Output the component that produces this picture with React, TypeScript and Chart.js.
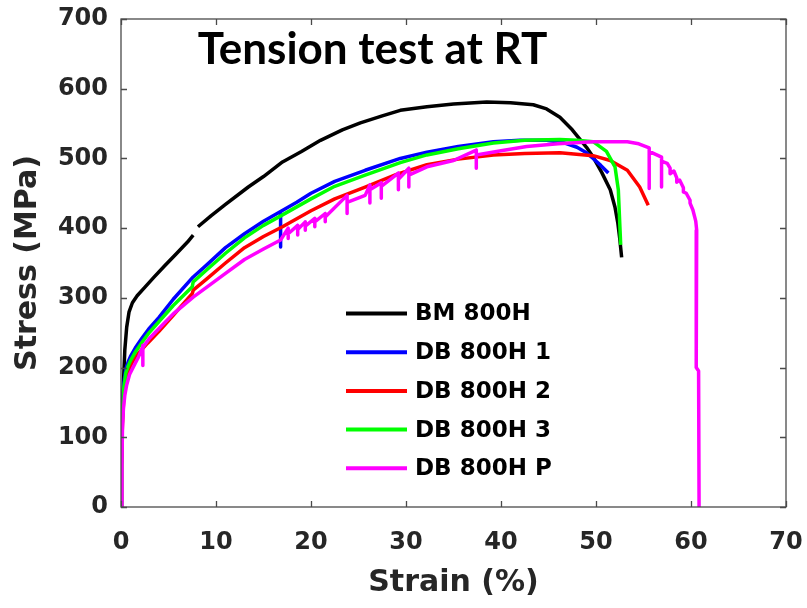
import React, { useEffect, useRef } from 'react';
import { Chart, registerables } from 'chart.js';

Chart.register(...registerables);

// ---------- Data ----------
const seriesLabels = ['BM 800H', 'DB 800H 1', 'DB 800H 2', 'DB 800H 3', 'DB 800H P'];
const seriesColors = ['#000000', '#0000ff', '#ff0000', '#00ff00', '#ff00ff'];

const xTickValues = [0, 10, 20, 30, 40, 50, 60, 70];
const yTickValues = [0, 100, 200, 300, 400, 500, 600, 700];

const bmStrain = [0, 0.05, 0.15, 0.25, 0.4, 0.6, 0.85, 1.2, 1.7, 2.5, 3.5, 4.6, 5.8, 7.0, 7.6, 7.85, 8.1, 9.5, 11, 13.4, 15, 17, 19, 21, 23.3, 25.2, 27.5, 29.4, 32.2, 35, 38.5, 41, 43.4, 44.8, 46.2, 47.5, 49, 49.7, 50.6, 51.5, 52, 52.3, 52.5, 52.7];
const bmStress = [0, 60, 130, 175, 225, 258, 280, 293, 303, 315, 330, 346, 363, 380, 390, null, 402, 418, 434, 459, 474, 495, 510, 526, 541, 551, 561, 569, 574, 578, 581, 580, 577, 571, 559, 541, 516, 502, 480, 455, 430, 407, 385, 358];

const db1Strain = [0, 0.05, 0.15, 0.3, 0.5, 0.75, 1.0, 1.5, 2.2, 2.9, 4, 5.5, 7.6, 9, 11, 13, 15, 16.8, 16.8, 16.8, 18.5, 20, 22.5, 25.7, 29.4, 32.2, 35.5, 39.2, 42, 44.8, 46.5, 48, 49, 49.7, 50.5, 51.3];
const db1Stress = [0, 70, 140, 178, 198, 208, 216, 228, 242, 255, 272, 298, 330, 347, 372, 392, 410, 424, 373, 424, 437, 450, 467, 483, 500, 509, 517, 524, 526, 526, 523, 516, 508, 500, 490, 479];

const db2Strain = [0, 0.05, 0.15, 0.3, 0.5, 0.8, 1.2, 1.8, 2.8, 4, 5.5, 7.5, 7.6, 9, 11, 13, 15, 17, 20, 22.5, 25.7, 29, 32.2, 35.5, 39.2, 42.5, 46.2, 49.7, 51.5, 53.3, 54.6, 55.5];
const db2Stress = [0, 60, 120, 160, 182, 196, 208, 220, 235, 252, 275, 306, 311, 327, 350, 372, 388, 402, 425, 442, 459, 477, 491, 499, 505, 507, 508, 504, 497, 483, 459, 433];

const db3Strain = [0, 0.05, 0.15, 0.3, 0.5, 0.75, 1.0, 1.5, 2.2, 2.9, 4, 5.5, 7.5, 7.6, 9, 11, 13, 15, 17, 20, 22.5, 25.7, 29.4, 32.2, 35.5, 39.2, 42.5, 46.2, 48, 49.7, 51.1, 52.0, 52.35, 52.5, 52.6];
const db3Stress = [0, 70, 135, 172, 192, 202, 210, 222, 236, 249, 266, 289, 316, 323, 340, 364, 386, 404, 419, 442, 460, 476, 494, 505, 514, 522, 526, 527, 526, 524, 510, 488, 455, 407, 376];

const dbpStrain = [0, 0.1, 0.15, 0.25, 0.4, 0.6, 0.9, 1.3, 1.8, 2.3, 2.3, 2.3, 2.35, 3, 4, 5.5, 7.6, 9, 11, 13, 15, 16.8,
  17.6, 17.6, 17.6, 18.6, 18.6, 18.6, 19.4, 19.4, 19.4, 20.4, 20.4, 20.4, 21.5, 21.5, 21.5, 23.8, 23.8, 23.8, 25.7,
  26.2, 26.2, 26.2, 27.4, 27.4, 27.4, 29.2, 29.2, 29.2, 30.3, 30.3, 30.3, 32.2, 35, 37.4, 37.4, 37.4, 40, 42.7, 46, 49.7, 53.3, 54.5,
  55.6, 55.6, 55.6, 56.9, 56.9, 56.9, 57.5, 57.8, 57.8, 58.2, 58.5, 58.5, 58.8, 59.2, 59.2, 59.5, 59.9, 59.9, 60.2, 60.5, 60.6, 60.55, 60.8, 60.85];
const dbpStress = [0, 60, 110, 140, 160, 175, 190, 201, 214, 230, 203, 232, 230, 242, 256, 277, 301, 315, 335, 355, 370, 383,
  400, 385, 392, 404, 390, 398, 409, 397, 403, 414, 402, 409, 421, 409, 416, 447, 421, 437, 447,
  462, 436, 455, 465, 443, 460, 479, 455, 470, 486, 459, 476, 488, 497, 512, 486, 505, 511, 517, 521, 524, 524, 521,
  515, 457, 510, 502, 459, 496, 493, 486, 478, 482, 472, 466, 469, 458, 452, 450, 440, 436, 426, 410, 397, 200, 195, 0];

const strainSeries = [bmStrain, db1Strain, db2Strain, db3Strain, dbpStrain];
const stressSeries = [bmStress, db1Stress, db2Stress, db3Stress, dbpStress];
const drawOrder = [5, 4, 3, 2, 1];
const lineWidths = [3.5, 3.5, 3.5, 3.5, 3.5];

const chartTitle = 'Tension test at RT';
const xTitle = 'Strain (%)';
const yTitle = 'Stress (MPa)';

const FONT = "'DejaVu Sans', 'Liberation Sans', sans-serif";
const AXIS_COLOR = '#262626';

const overlayPlugin = {
  id: 'overlay',
  afterDatasetsDraw(chart: any) {
    const { ctx, chartArea: ca, scales } = chart;
    const xs = scales.x;
    const ys = scales.y;
    ctx.save();
    // box
    ctx.strokeStyle = '#4a4a4a';
    ctx.lineWidth = 1.3;
    ctx.strokeRect(ca.left, ca.top, ca.right - ca.left, ca.bottom - ca.top);
    // inward ticks
    const tl = 6;
    ctx.beginPath();
    xTickValues.forEach((v) => {
      const p = Math.round(xs.getPixelForValue(v)) + 0.5;
      ctx.moveTo(p, ca.bottom); ctx.lineTo(p, ca.bottom - tl);
      ctx.moveTo(p, ca.top); ctx.lineTo(p, ca.top + tl);
    });
    yTickValues.forEach((v) => {
      const p = Math.round(ys.getPixelForValue(v)) + 0.5;
      ctx.moveTo(ca.left, p); ctx.lineTo(ca.left + tl, p);
      ctx.moveTo(ca.right, p); ctx.lineTo(ca.right - tl, p);
    });
    ctx.stroke();

    // legend
    const lx0 = ca.left + 225;
    const lx1 = ca.left + 286;
    const tx = ca.left + 294;
    const ly0 = ca.top + 294.5;
    const dy = 38.7;
    ctx.font = `bold 23px ${FONT}`;
    ctx.textAlign = 'left';
    ctx.textBaseline = 'middle';
    chart.data.datasets.forEach((ds: any, i: number) => {
      const y = ly0 + i * dy;
      ctx.strokeStyle = ds.borderColor;
      ctx.lineWidth = 4;
      ctx.beginPath();
      ctx.moveTo(lx0, y);
      ctx.lineTo(lx1, y);
      ctx.stroke();
      ctx.fillStyle = '#000';
      ctx.fillText(ds.label, tx, y + 1);
    });

    // title
    ctx.font = `bold 44px Lato, 'Open Sans', sans-serif`;
    ctx.textAlign = 'center';
    ctx.textBaseline = 'alphabetic';
    ctx.fillStyle = '#000';
    ctx.fillText(chartTitle, ca.left + 251.5, ca.top + 44.5);
    ctx.restore();
  },
};

export default function App() {
  const ref = useRef<HTMLCanvasElement>(null);
  useEffect(() => {
    if (!ref.current) return;
    const datasets = seriesLabels.map((label, i) => ({
      label,
      data: strainSeries[i].map((x, j) => ({ x, y: stressSeries[i][j] })),
      borderColor: seriesColors[i],
      backgroundColor: seriesColors[i],
      borderWidth: lineWidths[i],
      pointRadius: 0,
      tension: 0,
      spanGaps: false,
      fill: false,
      order: drawOrder[i],
      borderJoinStyle: 'round' as const,
      borderCapStyle: 'butt' as const,
    }));
    const chart = new Chart(ref.current, {
      type: 'line',
      data: { datasets },
      options: {
        animation: false,
        responsive: false,
        devicePixelRatio: 1,
        events: [],
        layout: { padding: { top: 19, right: 21, left: 0, bottom: 0 } },
        plugins: {
          legend: { display: false },
          tooltip: { enabled: false },
          title: { display: false },
        },
        scales: {
          x: {
            type: 'linear',
            min: 0,
            max: 70,
            grid: { display: false, drawTicks: false },
            border: { display: false },
            ticks: {
              stepSize: 10,
              maxRotation: 0,
              autoSkip: false,
              padding: 21,
              color: AXIS_COLOR,
              font: { family: FONT, size: 24, weight: 'bold' },
            },
            title: {
              display: true,
              text: xTitle,
              color: AXIS_COLOR,
              font: { family: FONT, size: 30, weight: 'bold' },
              padding: { top: 0, bottom: 7 },
            },
            afterFit: (scale: any) => {
              scale.height = 101;
              scale.paddingLeft = 0;
              scale.paddingRight = 0;
            },
          },
          y: {
            type: 'linear',
            min: 0,
            max: 700,
            grid: { display: false, drawTicks: false },
            border: { display: false },
            ticks: {
              stepSize: 100,
              padding: 13,
              color: AXIS_COLOR,
              font: { family: FONT, size: 24, weight: 'bold' },
            },
            title: {
              display: true,
              text: yTitle,
              color: AXIS_COLOR,
              font: { family: FONT, size: 30, weight: 'bold' },
              padding: { top: 10, bottom: 0 },
            },
            afterFit: (scale: any) => {
              scale.width = 121;
              scale.paddingTop = 0;
              scale.paddingBottom = 0;
            },
          },
        },
      },
      plugins: [overlayPlugin],
    });
    return () => chart.destroy();
  }, []);
  return (
    <div style={{ position: 'absolute', left: 0, top: 0, width: 807, height: 608, background: '#fff' }}>
      <canvas ref={ref} width={807} height={608} style={{ display: 'block', width: 807, height: 608 }} />
    </div>
  );
}
